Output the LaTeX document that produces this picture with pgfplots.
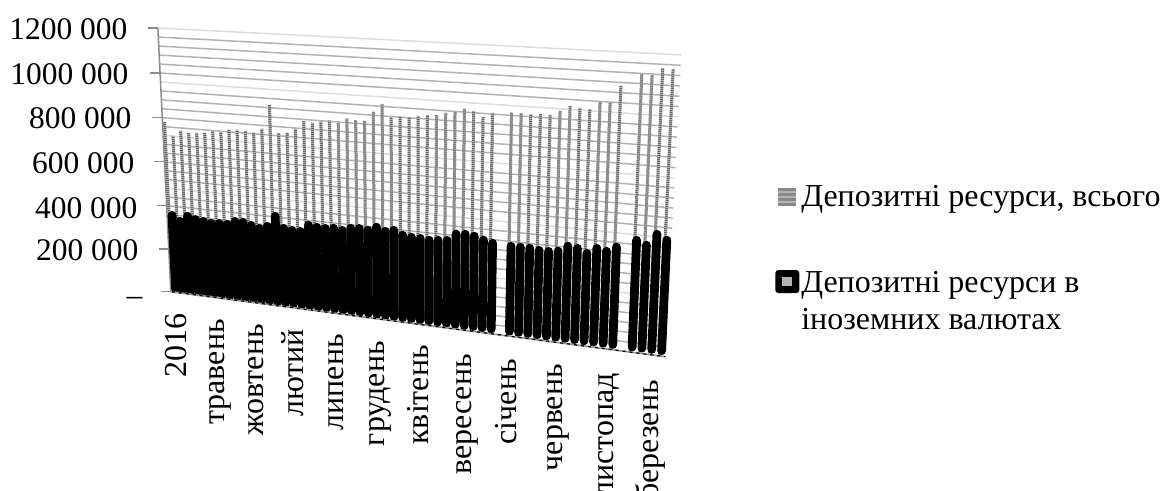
\documentclass[border=0pt]{standalone}
\usepackage{fontspec}
\setmainfont{Liberation Serif}
\usepackage{pgfplots}
\usepackage{pgfplotstable}
\pgfplotsset{compat=1.18}

% monthly deposit resources: slot along the floor, total, foreign currency
\pgfplotstableread{
slot total foreign
0 785500 360000
1 725000 336000
2 751000 363000
3 744000 352000
4 747000 347000
5 750000 342000
6 762000 346000
7 760000 345000
8 772000 362000
9 775000 362000
10 773000 352000
11 767000 342000
12 788000 355000
13 895000 404000
14 776000 354000
15 779000 349000
16 799000 348000
17 836000 379000
18 830000 374000
19 838000 373000
20 845000 377000
21 839000 372000
22 859000 385000
23 856000 388000
24 855000 384000
25 896000 401000
26 933000 387000
27 880000 395000
28 883000 378000
29 881000 373000
30 893000 372000
31 899000 368000
32 902000 372000
33 913000 375000
34 920000 406000
35 935000 409000
36 929000 405000
37 907000 392000
38 926000 383000
40 932000 378000
41 934000 378000
42 932000 378000
43 935000 373000
44 934000 373000
45 953000 378000
46 975000 403000
47 970000 398000
48 968000 381000
49 999000 406000
50 997000 398000
51 1068000 419000
53 1119000 455000
54 1118000 439000
55 1147000 487000
56 1146000 467000
}\deposits

\pgfplotstableread{
n val
1 40000
2 80000
3 120000
4 160000
5 200000
7 280000
8 320000
9 360000
10 400000
11 440000
13 520000
14 560000
15 600000
16 640000
17 680000
19 760000
20 800000
21 840000
22 880000
23 920000
25 1000000
26 1040000
27 1080000
28 1120000
29 1160000
}\griddark
\pgfplotstableread{
n val
0 0
6 240000
12 480000
18 720000
24 960000
30 1200000
}\gridlight
\pgfplotstableread{
n val
0 0
1 200000
2 400000
3 600000
4 800000
5 1000000
6 1200000
}\valueticks

\definecolor{griddk}{HTML}{B2B2B2}
\definecolor{gridlt}{HTML}{DCDCDC}
\definecolor{axisgr}{HTML}{8C8C8C}
\definecolor{barlt}{HTML}{B4B4B4}
\definecolor{bardk}{HTML}{6A6A6A}

% tick labels are zero-width boxes pushed along their own reading direction
\newcommand\lb[2]{\makebox[0pt][r]{\rule[-0.22em]{0pt}{0.9em}#2\hspace*{-#1pt}}}
\newcommand\ytickfont{\fontsize{31.5}{37}\selectfont}
\newcommand\xtickfont{\fontsize{32}{37}\selectfont}
\newcommand\legfont{\fontsize{32}{37}\selectfont}
\newcommand\lgline[1]{\begin{tabular}[t]{@{}l@{}}#1\end{tabular}}

\begin{document}
\begin{tikzpicture}
\begin{axis}[
  scale only axis, width=1164pt, height=490pt,
  xmin=0, xmax=1164, ymin=0, ymax=490,
  clip=false,
  separate axis lines,
  axis line style={draw=none},
  major tick length=0pt,
  tick style={draw=none},
  declare function={
    us(\i)=(\i/56)/(1+0.14*(1-\i/56));
    ff(\v)=(\v/1200000)*(0.97+0.03*\v/1200000);
  },
  ytick={191,237,279,324,369,413,458},
  yticklabels={\lb{142}{--},\lb{138}{200 000},\lb{137}{400 000},\lb{134}{600 000},\lb{131}{800 000},\lb{128}{1000 000},\lb{127}{1200 000}},
  xtick={178,216,255,295,335,376,421,464,509,555,606,650},
  xticklabels={\lb{177}{2016},\lb{171}{травень},\lb{166}{жовтень},\lb{161}{лютий},\lb{156}{липень},\lb{149}{грудень},\lb{145}{квітень},\lb{136}{вересень},\lb{131}{січень},\lb{126}{червень},\lb{117}{листопад},\lb{110}{березень}},
  yticklabel style={font=\ytickfont, inner sep=0pt, outer sep=0pt, anchor=east},
  xticklabel style={font=\xtickfont, inner sep=0pt, outer sep=0pt, rotate=90, anchor=east},
  legend style={at={(axis cs:775,311)}, anchor=north west, draw=none, fill=none,
    inner sep=0pt, outer sep=0pt, font=\legfont, row sep=54pt, cells={anchor=base west}},
]
% wall gridlines
\addplot[forget plot, griddk, line width=1.5pt, quiver={u=495+29*ff(\thisrow{val}), v=-65+38*ff(\thisrow{val})}]
  table[x expr=170-13*ff(\thisrow{val}), y expr=198+264*ff(\thisrow{val})] {\griddark};
\addplot[forget plot, gridlt, line width=1.5pt, quiver={u=495+29*ff(\thisrow{val}), v=-65+38*ff(\thisrow{val})}]
  table[x expr=170-13*ff(\thisrow{val}), y expr=198+264*ff(\thisrow{val})] {\gridlight};
% value axis line and its ticks
\addplot[forget plot, axisgr, line width=1.5pt]
  table[x expr=170-13*ff(\thisrow{val}), y expr=198+264*ff(\thisrow{val})] {\valueticks};
\addplot[forget plot, axisgr, line width=1.3pt, quiver={u=-10, v=0}]
  table[x expr=170-13*ff(\thisrow{val}), y expr=198+264*ff(\thisrow{val})] {\valueticks};
% total deposits: back row
\addplot[forget plot, barlt, line width=3pt, quiver={u=(-13+27*us(\thisrow{slot}))*ff(\thisrow{total}), v=(264+36*us(\thisrow{slot}))*ff(\thisrow{total})}]
  table[x expr=172+487.4*us(\thisrow{slot}), y expr=197-62*us(\thisrow{slot})] {\deposits};
\addplot[bardk, line width=3pt, dash pattern=on 1pt off 1pt,
  quiver={u=(-13+27*us(\thisrow{slot}))*ff(\thisrow{total}), v=(264+36*us(\thisrow{slot}))*ff(\thisrow{total})},
  legend image code/.code={
    \path[fill=bardk!80, draw=none, solid, line width=0pt] (3pt,1pt) rectangle (21pt,19pt);
    \path[fill=barlt, draw=none, solid, line width=0pt] (3pt,4pt) rectangle (21pt,6pt);
    \path[fill=barlt, draw=none, solid, line width=0pt] (3pt,9pt) rectangle (21pt,11pt);
    \path[fill=barlt, draw=none, solid, line width=0pt] (3pt,14pt) rectangle (21pt,16pt);
    \path[draw=none, fill=none, line width=0pt] (0pt,1pt) rectangle (24pt,2pt);}]
  table[x expr=172+487.4*us(\thisrow{slot}), y expr=197-62*us(\thisrow{slot})] {\deposits};
\addlegendentry{\lgline{Депозитні ресурси, всього}}
% foreign currency deposits: front row
\addplot[black, line width=8.8pt, line cap=round,
  quiver={u=(-13+27*us(\thisrow{slot}))*ff(\thisrow{foreign}), v=(264+36*us(\thisrow{slot}))*ff(\thisrow{foreign}),
    every arrow/.append style={shorten <=4pt}},
  legend image code/.code={
    \path[fill=black, draw=none, solid, line width=0pt, rounded corners=3pt] (0pt,-1pt) rectangle (24pt,22pt);
    \path[fill=barlt, draw=none, solid, line width=0pt] (7pt,6pt) rectangle (17pt,15pt);}]
  table[x expr=175+486*us(\thisrow{slot}), y expr=197-62*us(\thisrow{slot})] {\deposits};
\addlegendentry{\lgline{Депозитні ресурси в\\іноземних валютах}}
% front edge of the floor
\addplot[forget plot, griddk!85!black, line width=1.6pt]
  coordinates {(171,198) (665,133)};
\addplot[forget plot, black, line width=1.2pt, dash pattern=on 3pt off 4pt]
  coordinates {(171,198) (665,133)};
\end{axis}
\end{tikzpicture}
\end{document}
